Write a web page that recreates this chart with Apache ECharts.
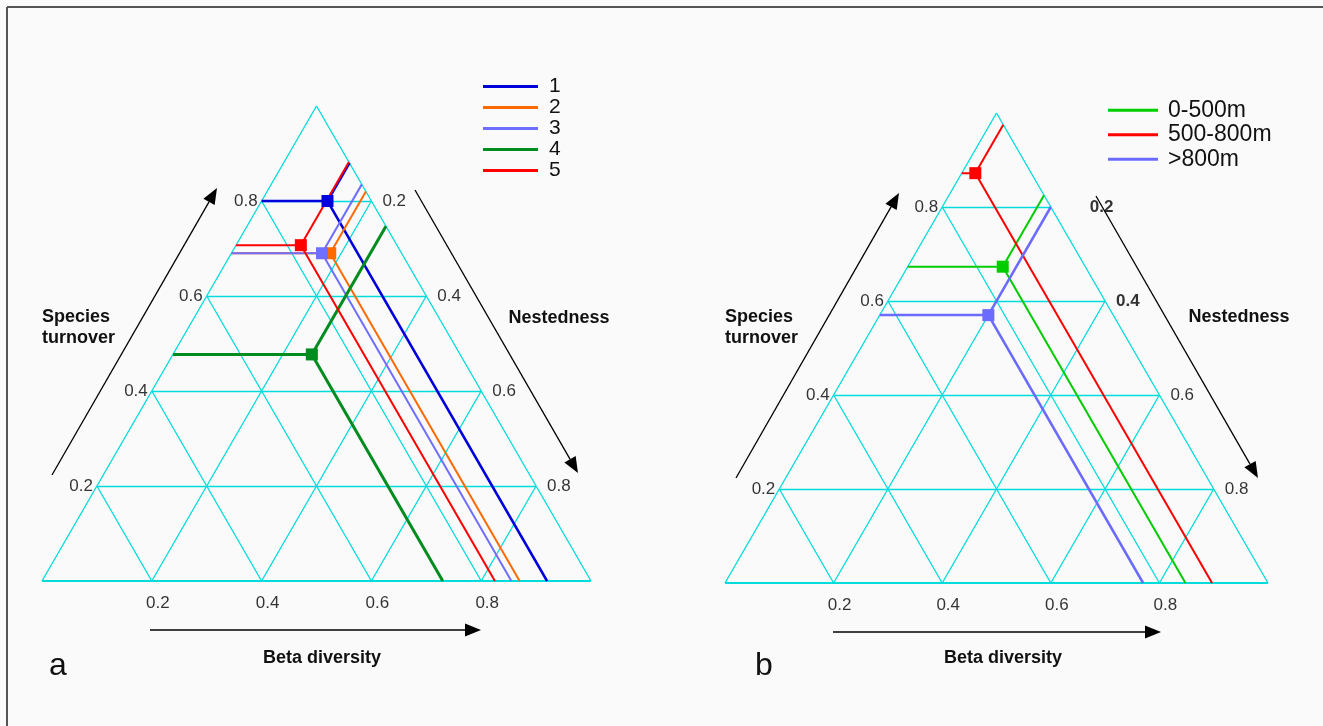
<!DOCTYPE html>
<html>
<head>
<meta charset="utf-8">
<script src="https://cdn.jsdelivr.net/npm/echarts@6/dist/echarts.min.js"></script>
<style>
html,body{margin:0;padding:0;background:#fafafa;}
#chart{width:1323px;height:726px;}
</style>
</head>
<body>
<div id="chart"></div>
<script>
// ---- data: species turnover and nestedness (beta diversity = turnover + nestedness)
// panel a: five groups
const groupNames = ['1', '2', '3', '4', '5'];
const groupTurnover = [0.80, 0.69, 0.69, 0.477, 0.707];
const groupNestedness = [0.12, 0.18, 0.165, 0.253, 0.118];

// panel b: elevation bands
const bandNames = ['0-500m', '500-800m', '>800m'];
const bandTurnover = [0.673, 0.872, 0.570];
const bandNestedness = [0.175, 0.025, 0.20];

// tick values shared by the three ternary axes
const tickValues = [0.2, 0.4, 0.6, 0.8];

// ---- styling
const groupColors = ['#0000dd', '#ff6a00', '#6f6fff', '#008c1e', '#ff0000'];
const groupWidths = [2.5, 2, 2, 3, 2];
const bandColors = ['#00cc00', '#ff0000', '#6b6bff'];
const bandWidths = [2, 2, 2.5];
const gridColor = '#00dcdc';
const FONT = '"Liberation Sans", Arial, sans-serif';

// ternary (turnover, nestedness) -> cartesian (x along base, y = turnover height)
function pt(t, n) { return [n + t / 2, t]; }

function frameSeries(g) {
  const segs = [[[0, 0], [0.5, 1]], [[1, 0], [0.5, 1]]];
  tickValues.forEach(k => {
    segs.push([[k / 2, k], [1 - k / 2, k]]);          // constant turnover
    segs.push([[k, 0], [k + (1 - k) / 2, 1 - k]]);    // constant nestedness
    segs.push([[k, 0], [k / 2, k]]);                  // constant beta diversity
  });
  return [{
    type: 'lines', coordinateSystem: 'cartesian2d', xAxisIndex: g, yAxisIndex: g,
    silent: true, z: 1,
    lineStyle: { color: gridColor, width: 1.3, opacity: 1 },
    data: segs.map(c => ({ coords: c }))
  }, {
    type: 'lines', coordinateSystem: 'cartesian2d', xAxisIndex: g, yAxisIndex: g,
    silent: true, z: 1,
    lineStyle: { color: gridColor, width: 2.2, opacity: 1 },
    data: [{ coords: [[0, 0], [1, 0]] }]
  }];
}

function tickSeries(g, rightOpts) {
  const base = { fontSize: 17, color: '#000', fontFamily: FONT };
  return [{
    // species turnover ticks along left edge
    type: 'scatter', xAxisIndex: g, yAxisIndex: g, symbolSize: 0, silent: true, z: 5,
    data: tickValues.map(k => ({ value: pt(k, 0), tick: k })),
    label: Object.assign({ show: true, position: 'left', distance: 4,
      formatter: p => p.data.tick.toFixed(1) }, base)
  }, {
    // nestedness ticks along right edge
    type: 'scatter', xAxisIndex: g, yAxisIndex: g, symbolSize: 0, silent: true, z: 5,
    data: tickValues.map((k, i) => ({
      value: pt(1 - k, k), tick: k,
      label: rightOpts[i]
    })),
    label: Object.assign({ show: true, position: 'right', distance: 11,
      formatter: p => p.data.tick.toFixed(1) }, base)
  }, {
    // beta diversity ticks along base
    type: 'scatter', xAxisIndex: g, yAxisIndex: g, symbolSize: 0, silent: true, z: 5,
    data: tickValues.map(k => ({ value: [k, 0], tick: k })),
    label: Object.assign({ show: true, position: 'bottom', distance: 14, offset: [6, 0],
      formatter: p => p.data.tick.toFixed(1) }, base)
  }];
}

function pointSeries(g, names, turn, nest, colors, widths) {
  const out = [];
  names.forEach((name, i) => {
    const t = turn[i], n = nest[i];
    const P = pt(t, n);
    const left = pt(t, 0);                // horizontal to turnover axis
    const bottom = [n + t, 0];            // parallel to right edge to beta axis
    const right = pt(1 - n, n);           // parallel to left edge to nestedness axis
    out.push({
      name: name, type: 'lines', coordinateSystem: 'cartesian2d',
      xAxisIndex: g, yAxisIndex: g, polyline: true, z: 3 + i * 0.01,
      lineStyle: { color: colors[i], width: widths[i], opacity: 1 },
      itemStyle: { color: colors[i] },
      data: [{ coords: [left, P, bottom] }, { coords: [P, right] }]
    });
  });
  names.forEach((name, i) => {
    out.push({
      name: name, type: 'scatter', xAxisIndex: g, yAxisIndex: g, z: 4,
      symbol: 'rect', symbolSize: 12,
      itemStyle: { color: colors[i], opacity: 1 },
      data: [pt(turn[i], nest[i])]
    });
  });
  return out;
}

function arrow(x1, y1, x2, y2) {
  const a = Math.atan2(y2 - y1, x2 - x1);
  const L = 16, W = 6.5;
  const bx = x2 - L * Math.cos(a), by = y2 - L * Math.sin(a);
  const px = -Math.sin(a) * W, py = Math.cos(a) * W;
  return [
    { type: 'line', silent: true, shape: { x1: x1, y1: y1, x2: bx, y2: by },
      style: { stroke: '#000', lineWidth: 1.3 } },
    { type: 'polygon', silent: true,
      shape: { points: [[x2, y2], [bx + px, by + py], [bx - px, by - py]] },
      style: { fill: '#000' } }
  ];
}

function text(x, y, s, opts) {
  return {
    type: 'text', silent: true, x: x, y: y,
    style: Object.assign({ text: s, fontFamily: FONT, fill: '#111',
      fontSize: 18, fontWeight: 'bold', align: 'center', verticalAlign: 'middle' }, opts || {})
  };
}

const graphics = [
  // frame edges
  { type: 'line', silent: true, shape: { x1: 7, y1: 7, x2: 1323, y2: 7 }, style: { stroke: '#555', lineWidth: 2 } },
  { type: 'line', silent: true, shape: { x1: 7, y1: 7, x2: 7, y2: 726 }, style: { stroke: '#555', lineWidth: 2 } },
  ...arrow(52, 475, 217, 188),
  ...arrow(415, 190, 578, 473),
  ...arrow(150, 630, 481, 630),
  ...arrow(736, 478, 899, 193),
  ...arrow(1096, 196, 1258, 478),
  ...arrow(833, 632, 1161, 632),
  text(42, 328, 'Species\nturnover', { align: 'left', lineHeight: 21 }),
  text(559, 318, 'Nestedness'),
  text(322, 658, 'Beta diversity'),
  text(725, 328, 'Species\nturnover', { align: 'left', lineHeight: 21 }),
  text(1239, 317, 'Nestedness'),
  text(1003, 658, 'Beta diversity'),
  text(58, 666, 'a', { fontSize: 32, fontWeight: 'normal' }),
  text(764, 666, 'b', { fontSize: 32, fontWeight: 'normal' })
];

const axisX = g => ({ type: 'value', gridIndex: g, min: 0, max: 1, show: false });
const axisY = g => ({ type: 'value', gridIndex: g, min: 0, max: 1, show: false });

const option = {
  backgroundColor: '#fafafa',
  animation: false,
  textStyle: { fontFamily: FONT },
  grid: [
    { left: 42, top: 106, width: 549, height: 475, outerBoundsMode: 'none' },
    { left: 725, top: 113, width: 543, height: 470, outerBoundsMode: 'none' }
  ],
  xAxis: [axisX(0), axisX(1)],
  yAxis: [axisY(0), axisY(1)],
  legend: [{
    left: 483, top: 76, orient: 'vertical', padding: 0, itemGap: 0,
    itemWidth: 55, itemHeight: 3, selectedMode: false,
    textStyle: { fontSize: 21, lineHeight: 19, color: '#111', fontFamily: FONT, padding: [0, 0, 0, 6] },
    data: groupNames.map((n, i) => ({ name: n, icon: 'rect', itemStyle: { color: groupColors[i], borderWidth: 0 } }))
  }, {
    left: 1108, top: 98, orient: 'vertical', padding: 0, itemGap: 0,
    itemWidth: 50, itemHeight: 3, selectedMode: false,
    textStyle: { fontSize: 23, lineHeight: 24.5, color: '#111', fontFamily: FONT, padding: [0, 0, 0, 5] },
    data: bandNames.map((n, i) => ({ name: n, icon: 'rect', itemStyle: { color: bandColors[i], borderWidth: 0 } }))
  }],
  series: [
    ...frameSeries(0),
    ...frameSeries(1),
    ...tickSeries(0, [{}, {}, {}, {}]),
    ...tickSeries(1, [{ fontWeight: 'bold', distance: 39 }, { fontWeight: 'bold' }, {}, {}]),
    ...pointSeries(0, groupNames, groupTurnover, groupNestedness, groupColors, groupWidths),
    ...pointSeries(1, bandNames, bandTurnover, bandNestedness, bandColors, bandWidths)
  ],
  graphic: graphics
};

const chart = echarts.init(document.getElementById('chart'), null, { renderer: 'canvas' });
chart.setOption(option);
</script>
</body>
</html>
